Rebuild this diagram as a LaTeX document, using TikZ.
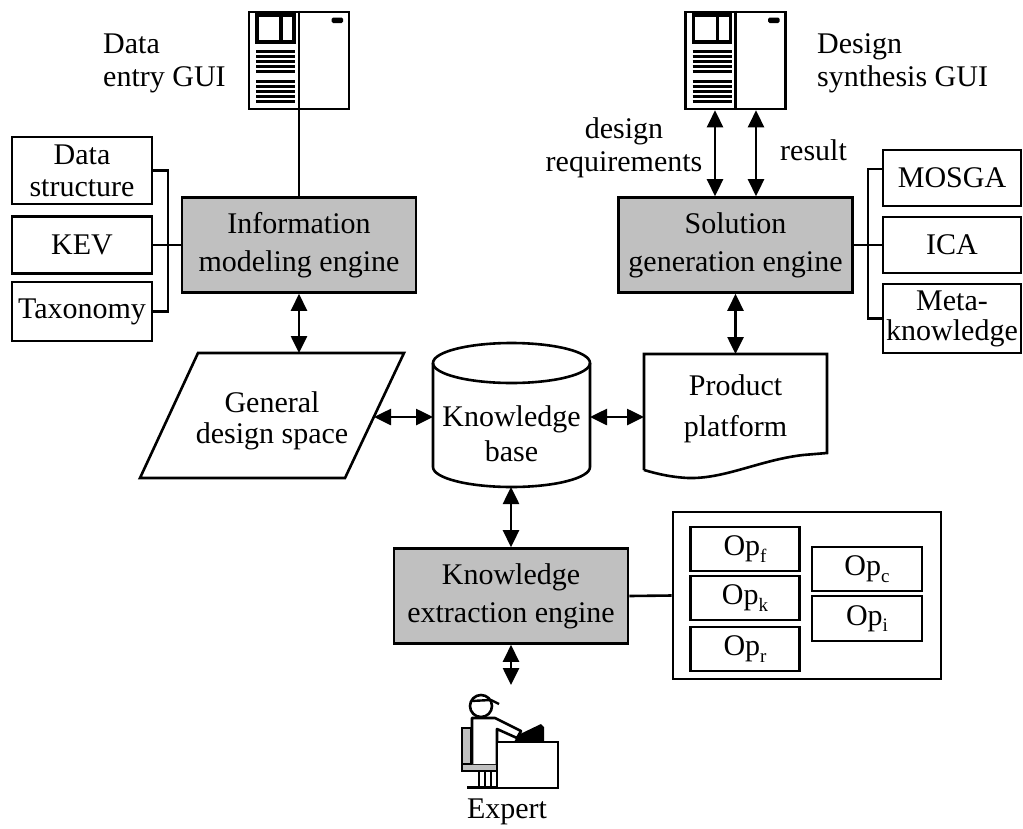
\documentclass[tikz,border=0pt]{standalone}
\usepackage{fontspec}
\setmainfont{Liberation Serif}
\usetikzlibrary{arrows.meta}

\definecolor{enginegray}{RGB}{192,192,192}

\newcommand\opsub[1]{Op\raisebox{-0.22em}{\fontsize{19}{19}\selectfont #1}}

\tikzset{
  every node/.style={font=\fontsize{30}{33}\selectfont},
  box/.style={draw, line width=2.6pt, inner sep=0pt, align=center},
  engine/.style={box, fill=enginegray, minimum width=234pt, minimum height=95pt,
                 font=\fontsize{30}{38}\selectfont},
  sidebox/.style={box, fill=white, minimum width=140pt},
  opcell/.style={box, minimum width=109pt, minimum height=44pt},
  guibox/.style={draw, line width=2.6pt, minimum width=100pt, minimum height=97pt, inner sep=0pt},
  outline/.style={line width=2.6pt, line join=miter},
  conn/.style={line width=2.6pt},
  dblarrow/.style={line width=2.6pt,
    {Triangle[length=17pt,width=16pt]}-{Triangle[length=17pt,width=16pt]}},
  lbl/.style={inner sep=0pt},
  guiface/.pic={
    % picture frame in the left panel
    \draw[line width=3.6pt] (-42,-45.5) rectangle (-5,-18.8);
    \draw[line width=3.6pt] (-18,-45.5) -- (-18,-18.8);
    % text lines
    \foreach \yy in {-8.8,-3.8,1.2,6.2,11.2,21.2,26.2,31.2,36.2,41.2}
      \draw[line width=2.8pt] (-43,\yy) -- (-4,\yy);
    % handle on the right panel
    \fill[rounded corners=1.5pt] (32.5,-43) rectangle (44,-37.5);
  }
}

\begin{document}
\begin{tikzpicture}[x=1pt, y=-1pt]
\useasboundingbox (0,0) rectangle (1023,828);

% ---------- GUI windows ----------
\node[guibox] (gui1) at (299,60.5) {};
\draw[conn] (gui1.north) -- (gui1.south);
\pic at (gui1.center) {guiface};

\node[guibox] (gui2) at (735.5,60.5) {};
\draw[conn] (gui2.north) -- (gui2.south);
\pic at (gui2.center) {guiface};

\node[lbl, anchor=west, align=left] (lblentry) at (103,63) {Data\\entry GUI};
\node[lbl, anchor=west, align=left] (lblsynth) at (817,63) {Design\\synthesis GUI};

% ---------- engines ----------
\node[engine] (ime) at (299,245) {Information\\modeling engine};
\node[engine] (sge) at (735.5,245) {Solution\\generation engine};
\node[engine] (kee) at (511,596) {Knowledge\\extraction engine};

% ---------- modules of the information modeling engine ----------
\node[sidebox, minimum height=67pt, font=\fontsize{30}{32}\selectfont] (ds) at (82,170.5) {Data\\structure};
\node[sidebox, minimum height=57pt] (kev) at (82,245) {KEV};
\node[sidebox, minimum height=59pt] (tax) at (82,311.5) {Taxonomy};
\coordinate (lj) at (168,245);
\draw[conn] (ds.east) -| (lj) |- (tax.east);
\draw[conn] (kev.east) -- (ime.west);

% ---------- modules of the solution generation engine ----------
\node[sidebox, minimum width=138pt, minimum height=56pt] (mosga) at (952,178) {MOSGA};
\node[sidebox, minimum width=138pt, minimum height=56pt] (ica) at (952,245) {ICA};
\node[sidebox, minimum width=138pt, minimum height=69pt, font=\fontsize{30}{30}\selectfont] (meta) at (952,318.5) {Meta-\\knowledge};
\coordinate (rj) at (868,245);
\draw[conn] ([yshift=9pt]mosga.west) -| (rj) |- (meta.west);
\draw[conn] (sge.east) -- (ica.west);

% ---------- general design space (parallelogram) ----------
\draw[outline] (198,353) -- (404,353) -- (345,478) -- (140,478) -- cycle;
\node[align=center, font=\fontsize{30}{31}\selectfont] (gds) at (272,421) {General\\design space};
\coordinate (gdsN) at (299,353);
\coordinate (gdsE) at (374,417);

% ---------- knowledge base (cylinder) ----------
\draw[outline] (433,363) -- (433,467) arc[start angle=180, end angle=0, x radius=78.5, y radius=20] -- (590,363);
\draw[outline] (511.5,363) ellipse[x radius=78.5, y radius=20];
\node[align=center, font=\fontsize{30}{35}\selectfont] (kb) at (511.5,434) {Knowledge\\base};
\coordinate (kbW) at (433,417);
\coordinate (kbE) at (590,417);
\coordinate (kbS) at (511,487);

% ---------- product platform (document) ----------
\draw[outline] (644,470) -- (644,354) -- (827,354) -- (827,453) -- (803,455)
  .. controls (760,460) and (725,479) .. (688,478)
  .. controls (670,477) and (658,474) .. (644,470);
\node[align=center, font=\fontsize{30}{41}\selectfont] (pp) at (735.5,409) {Product\\platform};
\coordinate (ppW) at (644,417);
\coordinate (ppN) at (735.5,354);

% ---------- operators ----------
\node[box, minimum width=268pt, minimum height=167pt] (ops) at (807,595.5) {};
\node[opcell] (opf) at (745,549) {\opsub{f}};
\node[opcell] (opk) at (745,598) {\opsub{k}};
\node[opcell] (opr) at (745,649) {\opsub{r}};
\node[opcell, minimum width=110pt] (opc) at (867,569) {\opsub{c}};
\node[opcell, minimum width=110pt, minimum height=45pt] (opi) at (867,618.5) {\opsub{i}};
\draw[conn] (kee.east) -- (ops.west);

% ---------- expert at the desk ----------
\coordinate (expertN) at (511,685);
% chair
\draw[line width=2pt, fill=enginegray] (462,728) rectangle (471,770);
\draw[line width=2pt, fill=enginegray] (462,764) rectangle (497,771);
% legs and feet
\draw[line width=2.4pt] (479,771) -- (479,787) (485,771) -- (485,787) (491,771) -- (491,787);
\draw[line width=3pt] (467,787) -- (498,787);
% body and arm
\draw[line width=2.6pt, fill=white, line join=round]
  (472,764) -- (472,718) -- (495,718) -- (521,731) -- (517,738) -- (497,729) -- (497,764);
% head and cap
\draw[line width=2.6pt, fill=white] (481,706) circle[radius=11];
\draw[line width=2.4pt] (471,701) -- (491,700) -- (499,704);
% desk
\draw[line width=2.6pt, fill=white] (497,742) rectangle (558,788);
% computer
\fill (514,742) -- (544,742) -- (544,727) -- (541,724) -- (518,735) -- cycle;
\node (expert) at (507,812) {Expert};

% ---------- connectors ----------
\draw[conn] (gui1.south) -- (ime.north);
\draw[dblarrow] ([xshift=-20.5pt]sge.north) -- ([xshift=-20.5pt]sge.north |- gui2.south);
\draw[dblarrow] ([xshift=20.5pt]sge.north) -- ([xshift=20.5pt]sge.north |- gui2.south);
\node[lbl, align=center] (lblreq) at (624,147.5) {design\\requirements};
\node[lbl, anchor=base west] (lblres) at (780,160) {result};

\draw[dblarrow] (ime.south) -- (gdsN);
\draw[dblarrow] (gdsE) -- (kbW);
\draw[dblarrow] (kbE) -- (ppW);
\draw[dblarrow] (sge.south) -- (ppN);
\draw[dblarrow] (kbS) -- (kee.north);
\draw[dblarrow] (kee.south) -- (expertN);
\end{tikzpicture}
\end{document}
